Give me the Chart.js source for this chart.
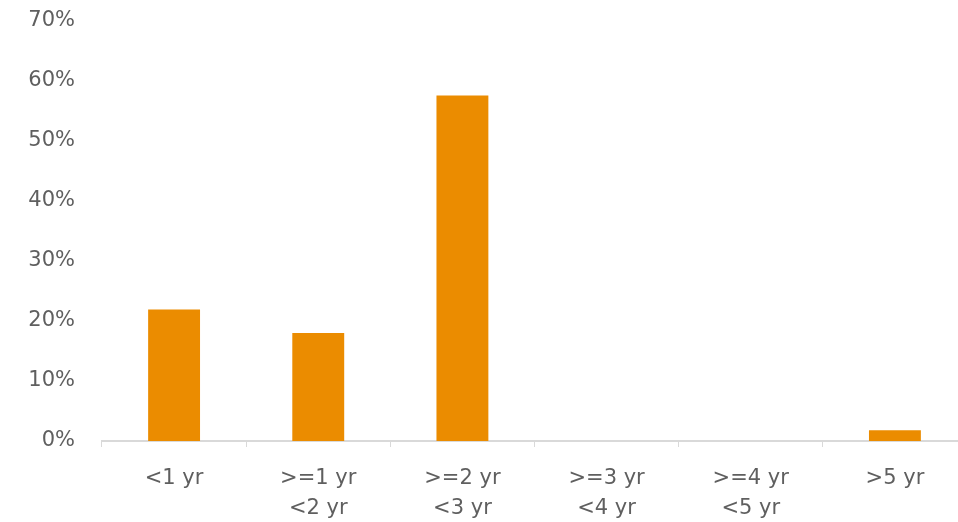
<!DOCTYPE html>
<html>
<head>
<meta charset="utf-8">
<script src="https://cdn.jsdelivr.net/npm/chart.js@4.4.1/dist/chart.umd.min.js"></script>
<style>
    body { margin: 0; overflow: hidden; background: #ffffff; }
    #wrap { width: 980px; height: 522px; }
</style>
</head>
<body>
<div id="wrap"><canvas id="chart" width="980" height="522"></canvas></div>
<script>
// Data -----------------------------------------------------------
let categories = [
    ["<1 yr"],
    [">=1 yr", "<2 yr"],
    [">=2 yr", "<3 yr"],
    [">=3 yr", "<4 yr"],
    [">=4 yr", "<5 yr"],
    [">5 yr"]
];
let shares = [21.9, 18.0, 57.6, 0, 0, 1.8];
let yTicks = [0, 10, 20, 30, 40, 50, 60, 70];

// Same grey for all texts
let textColor = "#5f5f5f";
let axisColor = "#d9d9d9";

let ctx = document.getElementById("chart").getContext("2d");

let chart = new Chart(ctx, {
    type: "bar",
    data: {
        labels: categories,
        datasets: [{
            data: shares,
            backgroundColor: "#eb8c00",
            borderWidth: 0,
            categoryPercentage: 1,
            barPercentage: 0.36
        }]
    },
    options: {
        responsive: false,
        animation: false,
        layout: { padding: { top: 21, right: 13, bottom: 0, left: 0 } },
        plugins: {
            legend: { display: false },
            tooltip: { enabled: false }
        },
        scales: {
            x: {
                afterFit: function (scale) {
                    scale.height = 81;
                    scale.paddingLeft = 0;
                    scale.paddingRight = 0;
                },
                grid: {
                    display: true,
                    drawOnChartArea: false,
                    drawTicks: true,
                    tickLength: 6,
                    color: axisColor,
                    offset: true
                },
                border: { display: true, color: axisColor, width: 2 },
                ticks: {
                    color: textColor,
                    font: { family: "DejaVu Sans", size: 21, lineHeight: 1.43 },
                    padding: 17,
                    maxRotation: 0
                }
            },
            y: {
                min: 0,
                max: 70,
                afterFit: function (scale) {
                    scale.width = 102;
                    scale.paddingTop = 0;
                    scale.paddingBottom = 0;
                },
                afterBuildTicks: function (scale) {
                    scale.ticks = yTicks.map(v => ({ value: v }));
                },
                grid: { display: false, drawTicks: false },
                border: { display: false },
                ticks: {
                    color: textColor,
                    font: { family: "DejaVu Sans", size: 21 },
                    padding: 27,
                    callback: function (v) { return v + "%"; }
                }
            }
        }
    }
});
</script>
</body>
</html>
